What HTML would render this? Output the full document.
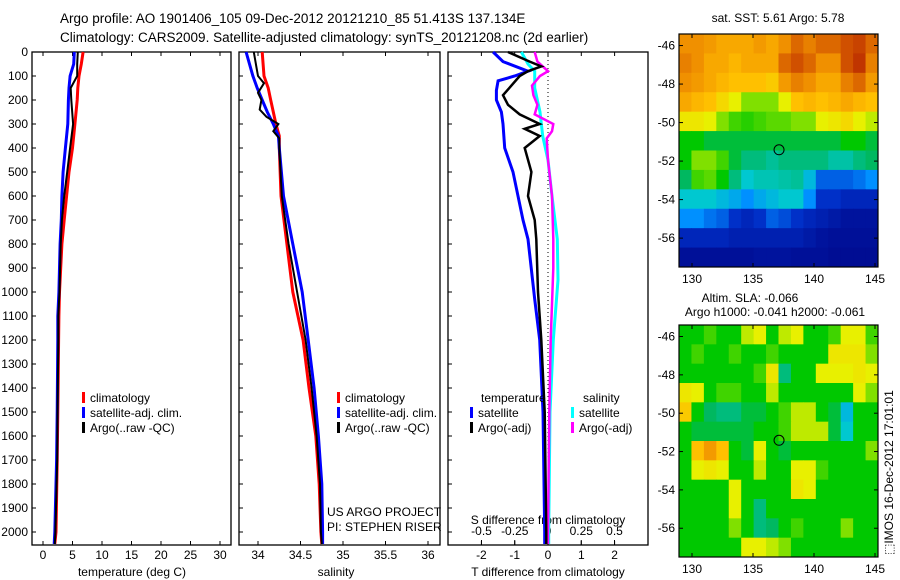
<!DOCTYPE html>
<html><head><meta charset="utf-8"><style>
html,body{margin:0;padding:0;background:#fff;}
svg{display:block;font-family:"Liberation Sans",Arial,sans-serif;}
</style></head><body>
<svg id="fig" width="900" height="580" viewBox="0 0 900 580" xmlns="http://www.w3.org/2000/svg">
<text x="60" y="23" font-size="13.5">Argo profile: AO 1901406_105 09-Dec-2012 20121210_85 51.413S 137.134E</text>
<text x="60" y="42" font-size="13.5">Climatology: CARS2009. Satellite-adjusted climatology: synTS_20121208.nc (2d earlier)</text>
<g id="p1"></g>
<g id="p2"></g>
<g id="p3"></g>
<g id="m1"></g>
<g id="m2"></g>
<text x="778" y="22" font-size="12" text-anchor="middle">sat. SST: 5.61  Argo: 5.78</text>
<text x="750" y="302" font-size="12" text-anchor="middle">Altim. SLA: -0.066</text>
<text x="775" y="316" font-size="12" text-anchor="middle">Argo h1000: -0.041 h2000: -0.061</text>
<text transform="translate(893,555) rotate(-90)" font-size="12">⬚IMOS 16-Dec-2012 17:01:01</text>
</svg>
<script>
// ---- data ----
const depthTicks=[0,100,200,300,400,500,600,700,800,900,1000,1100,1200,1300,1400,1500,1600,1700,1800,1900,2000];
const tTicks=[0,5,10,15,20,25,30];
const sTicks=[34,34.5,35,35.5,36];
const tdTicks=[-2,-1,0,1,2];
const sdTicks=[-0.5,-0.25,0,0.25,0.5];
const sdTickLabels=["-0.5","-0.25","0","0.25","0.5"];
const p1Depth=[0,50,100,150,200,300,400,500,600,700,800,1000,1100,1200,1500,1700,2000,2050];
const tClim=[6.8,6.5,6.1,5.9,5.8,5.4,5.0,4.4,4.0,3.6,3.2,2.8,2.7,2.65,2.5,2.4,2.2,2.0];
const tSat=[5.3,5.2,4.6,4.4,4.3,4.2,3.8,3.4,3.2,3.1,2.9,2.7,2.5,2.5,2.4,2.3,2.0,1.9];
const tArgo=[5.9,5.8,5.8,4.7,4.8,5.1,4.6,4.1,3.6,3.2,3.0,2.8,2.6,2.6,2.45,2.4,2.1,2.0];
const p2Depth=[0,100,150,200,250,300,350,400,600,800,1000,1200,1400,1600,1800,2000,2050];
const sClim=[34.05,34.07,34.12,34.15,34.18,34.21,34.25,34.25,34.27,34.34,34.41,34.53,34.6,34.68,34.72,34.74,34.75];
const sSat=[33.86,33.94,33.99,34.05,34.11,34.18,34.24,34.25,34.3,34.41,34.52,34.59,34.66,34.71,34.75,34.76,34.76];
const sArgoDepth=[0,60,100,130,170,200,240,270,300,330,360,400,600,800,1000,1200,1400,1600,1800,2000,2050];
const sArgo=[33.95,33.98,34.0,34.07,34.0,34.04,34.02,34.1,34.24,34.18,34.25,34.25,34.28,34.36,34.46,34.56,34.63,34.69,34.73,34.74,34.75];
const dTSatDepth=[0,40,80,100,120,160,200,250,300,400,500,600,700,780,1030,1200,1500,2000,2050];
const dTSat=[-1.65,-1.35,-0.6,-1.0,-1.5,-1.55,-1.55,-1.4,-1.35,-1.3,-1.05,-0.9,-0.75,-0.6,-0.4,-0.25,-0.15,-0.1,-0.1];
const dTArgoDepth=[0,40,60,80,100,140,180,220,260,300,320,350,400,500,600,700,780,1000,1200,1500,2000,2050];
const dTArgo=[-1.2,-0.55,-0.2,-0.6,-0.85,-1.1,-1.35,-1.2,-0.85,-0.25,-0.7,-0.25,-0.7,-0.5,-0.6,-0.4,-0.35,-0.3,-0.2,-0.1,-0.05,-0.05];
const dSSatDepth=[0,50,80,150,250,350,450,600,780,950,1200,1500,2000,2050];
const dSSat=[-0.2,-0.15,-0.1,-0.1,-0.06,-0.04,0,0.03,0.07,0.075,0.04,0.015,0.005,0.005];
const dSArgoDepth=[0,40,80,100,140,180,220,260,300,330,360,450,600,780,900,1200,1500,2000,2050];
const dSArgo=[-0.1,-0.08,0,-0.06,-0.12,-0.11,-0.08,-0.1,0.04,0.03,-0.01,0,0.03,0.04,0.04,0.02,0.01,0.0,0.0];
const lonTicks=[130,135,140,145];
const latTicks=[-46,-48,-50,-52,-54,-56];
const sstGrid=[
[0.8,0.8,0.78,0.75,0.75,0.75,0.78,0.75,0.8,0.85,0.82,0.85,0.85,0.88,0.9,0.85],
[0.82,0.8,0.75,0.75,0.72,0.75,0.75,0.75,0.85,0.88,0.85,0.8,0.8,0.88,0.92,0.82],
[0.8,0.78,0.75,0.72,0.7,0.7,0.7,0.68,0.78,0.82,0.8,0.75,0.75,0.82,0.85,0.78],
[0.75,0.72,0.7,0.65,0.6,0.55,0.55,0.55,0.6,0.7,0.72,0.7,0.72,0.75,0.72,0.7],
[0.62,0.62,0.6,0.55,0.5,0.48,0.5,0.52,0.52,0.55,0.55,0.6,0.62,0.65,0.6,0.58],
[0.45,0.45,0.42,0.42,0.42,0.42,0.42,0.42,0.42,0.42,0.42,0.42,0.42,0.45,0.45,0.42],
[0.45,0.55,0.55,0.5,0.42,0.38,0.38,0.36,0.38,0.38,0.38,0.38,0.35,0.35,0.38,0.4],
[0.4,0.5,0.52,0.45,0.38,0.32,0.34,0.34,0.35,0.36,0.3,0.2,0.2,0.2,0.22,0.25],
[0.32,0.32,0.32,0.3,0.28,0.25,0.28,0.3,0.32,0.32,0.25,0.15,0.15,0.12,0.12,0.12],
[0.25,0.25,0.22,0.2,0.15,0.12,0.15,0.2,0.18,0.15,0.12,0.1,0.08,0.06,0.06,0.06],
[0.12,0.12,0.12,0.12,0.1,0.1,0.1,0.1,0.1,0.1,0.08,0.06,0.05,0.05,0.05,0.05],
[0.05,0.05,0.05,0.05,0.05,0.05,0.06,0.06,0.06,0.05,0.05,0.05,0.04,0.04,0.04,0.04]];
const slaGrid=[
[0.45,0.45,0.5,0.45,0.45,0.58,0.6,0.45,0.58,0.6,0.45,0.45,0.5,0.6,0.6,0.5],
[0.45,0.5,0.45,0.45,0.5,0.45,0.45,0.5,0.45,0.45,0.45,0.45,0.62,0.62,0.62,0.55],
[0.45,0.45,0.45,0.45,0.45,0.45,0.5,0.62,0.38,0.45,0.45,0.6,0.6,0.6,0.62,0.6],
[0.62,0.6,0.45,0.5,0.5,0.45,0.45,0.58,0.45,0.45,0.45,0.45,0.45,0.45,0.6,0.55],
[0.68,0.45,0.4,0.38,0.38,0.42,0.42,0.45,0.5,0.58,0.58,0.45,0.42,0.3,0.45,0.45],
[0.45,0.42,0.42,0.42,0.42,0.42,0.45,0.45,0.5,0.58,0.58,0.58,0.42,0.32,0.45,0.45],
[0.45,0.7,0.78,0.7,0.45,0.42,0.6,0.45,0.42,0.45,0.45,0.45,0.45,0.45,0.45,0.55],
[0.45,0.6,0.62,0.6,0.45,0.45,0.58,0.45,0.45,0.6,0.6,0.5,0.45,0.45,0.45,0.45],
[0.45,0.45,0.45,0.45,0.6,0.45,0.45,0.45,0.45,0.62,0.6,0.45,0.45,0.45,0.45,0.45],
[0.45,0.45,0.45,0.45,0.6,0.45,0.38,0.45,0.45,0.45,0.45,0.45,0.45,0.45,0.45,0.45],
[0.45,0.45,0.45,0.45,0.55,0.45,0.38,0.4,0.45,0.5,0.45,0.45,0.45,0.55,0.45,0.45],
[0.45,0.45,0.45,0.45,0.45,0.6,0.6,0.58,0.55,0.45,0.45,0.45,0.45,0.45,0.45,0.45]];
const floatLon=137.134, floatLat=-51.413;

// ---- helpers ----
const NS="http://www.w3.org/2000/svg";
function mk(tag,attrs,parent){const e=document.createElementNS(NS,tag);for(const k in attrs)e.setAttribute(k,attrs[k]);parent.appendChild(e);return e;}
const yTop=52,yBot=545;
const yD=d=>yTop+0.24*d;

function panel(g,x0,x1,name){
  const r=mk('rect',{x:x0,y:yTop,width:x1-x0,height:yBot-yTop,fill:'none',stroke:'#000','stroke-width':1.3},g);
  
  
  depthTicks.forEach(d=>{
    const t=mk('line',{x1:x0,x2:x0+4,y1:yD(d),y2:yD(d),stroke:'#000'},g);
    
    
  });
}
function xTicks(g,vals,fx,name,labels){
  vals.forEach((v,i)=>{
    const x=fx(v);
    const a=mk('line',{x1:x,x2:x,y1:yBot,y2:yBot-4,stroke:'#000'},g);
    
    
    const b=mk('line',{x1:x,x2:x,y1:yTop,y2:yTop+4,stroke:'#000'},g);
    
    
    const t=mk('text',{x:x,y:yBot+14,'font-size':12,'text-anchor':'middle'},g);
    t.textContent=labels?labels[i]:String(v);
    
    
  });
}
function series(g,depths,vals,fx,color,w,name){
  const pts=depths.map((d,i)=>fx(vals[i]).toFixed(1)+','+yD(d).toFixed(1)).join(' ');
  const p=mk('polyline',{points:pts,fill:'none',stroke:color,'stroke-width':w,'stroke-linejoin':'miter'},g);
  
  
}
function legend(g,x,y,color,label,name){
  const l=mk('rect',{x:x,y:y-10,width:3,height:11,fill:color},g);
  
  
  const t=mk('text',{x:x+8,y:y,'font-size':12},g);
  t.textContent=label;
  
  
}
function txt(g,x,y,s,name,anchor){
  const t=mk('text',{x:x,y:y,'font-size':12,'text-anchor':anchor||'start'},g);
  t.textContent=s;
  
  
}

// ---- panel 1 ----
const g1=document.getElementById('p1');
const xT=v=>43+5.9*v;
panel(g1,32,231,'temperature');
depthTicks.forEach(d=>{
  const t=mk('text',{x:28,y:yD(d)+4,'font-size':12,'text-anchor':'end'},g1);
  t.textContent=String(d);
  
  
});
xTicks(g1,tTicks,xT,'temperature');
series(g1,p1Depth,tClim,xT,'#ff0000',3,'temperature-climatology-line');
series(g1,p1Depth,tSat,xT,'#0000ff',3,'temperature-satellite-line');
series(g1,p1Depth,tArgo,xT,'#000000',2,'temperature-argo-line');
legend(g1,82,402,'#ff0000','climatology','legend-climatology');
legend(g1,82,417,'#0000ff','satellite-adj. clim.','legend-satellite');
legend(g1,82,432,'#000000','Argo(..raw -QC)','legend-argo');
txt(g1,132,576,'temperature (deg C)','temperature-axis-title','middle');

// ---- panel 2 ----
const g2=document.getElementById('p2');
const xS=v=>258+85*(v-34);
panel(g2,239,440,'salinity');
xTicks(g2,sTicks,xS,'salinity');
series(g2,p2Depth,sClim,xS,'#ff0000',3,'salinity-climatology-line');
series(g2,p2Depth,sSat,xS,'#0000ff',3,'salinity-satellite-line');
series(g2,sArgoDepth,sArgo,xS,'#000000',2,'salinity-argo-line');
legend(g2,337,402,'#ff0000','climatology','legend-climatology-2');
legend(g2,337,417,'#0000ff','satellite-adj. clim.','legend-satellite-2');
legend(g2,337,432,'#000000','Argo(..raw -QC)','legend-argo-2');
txt(g2,327,516,'US ARGO PROJECT','credit-project');
txt(g2,327,531,'PI: STEPHEN RISER','credit-pi');
txt(g2,336,576,'salinity','salinity-axis-title','middle');

// ---- panel 3 ----
const g3=document.getElementById('p3');
const xTD=v=>548+33.3*v;
const xSD=v=>548+133*v;
panel(g3,448,648,'difference');
xTicks(g3,tdTicks,xTD,'t-difference');
sdTicks.forEach((v,i)=>{
  const x=xSD(v);
  const a=mk('line',{x1:x,x2:x,y1:yBot,y2:yBot-5,stroke:'#000'},g3);
  
  
  txt(g3,x,535,sdTickLabels[i],'s-difference-tick-label','middle');
});
txt(g3,548,524,'S difference from climatology','s-difference-axis-title','middle');
txt(g3,548,576,'T difference from climatology','t-difference-axis-title','middle');
const zl=mk('line',{x1:xTD(0),x2:xTD(0),y1:yTop,y2:yBot,stroke:'#000','stroke-dasharray':'1,3'},g3);


series(g3,dTSatDepth,dTSat,xTD,'#0000ff',3,'t-diff-satellite-line');
series(g3,dSSatDepth,dSSat,xSD,'#00ffff',3,'s-diff-satellite-line');
series(g3,dSArgoDepth,dSArgo,xSD,'#ff00ff',2.5,'s-diff-argo-line');
series(g3,dTArgoDepth,dTArgo,xTD,'#000000',2.5,'t-diff-argo-line');
txt(g3,481,402,'temperature','legend-temperature-heading');
txt(g3,583,402,'salinity','legend-salinity-heading');
legend(g3,470,417,'#0000ff','satellite','legend-t-satellite');
legend(g3,470,432,'#000000','Argo(-adj)','legend-t-argo');
legend(g3,571,417,'#00ffff','satellite','legend-s-satellite');
legend(g3,571,432,'#ff00ff','Argo(-adj)','legend-s-argo');

// ---- maps ----
const stops=[[0,[0,0,128]],[0.15,[0,48,200]],[0.25,[0,144,255]],[0.32,[0,200,208]],[0.4,[0,184,96]],[0.45,[0,200,0]],[0.55,[128,224,0]],[0.6,[232,240,0]],[0.7,[255,192,0]],[0.8,[240,144,0]],[0.88,[208,80,0]],[1,[160,0,0]]];
function cmap(v){
  for(let i=1;i<stops.length;i++){if(v<=stops[i][0]){const a=stops[i-1],b=stops[i];const f=(v-a[0])/(b[0]-a[0]);return 'rgb('+a[1].map((c,k)=>Math.round(c+f*(b[1][k]-c))).join(',')+')';}}
  return 'rgb(160,0,0)';
}
function drawMap(g,y0,y1,grid,name){
  const x0=679,x1=878;
  const fx=l=>692+(l-130)*12.2;
  const fy=la=>y0+(-45.4-la)*((y1-y0)/12.1);
  const rows=grid.length,cols=grid[0].length;
  const cw=(x1-x0)/cols,ch=(y1-y0)/rows;
  grid.forEach((row,r)=>row.forEach((v,c)=>{
    const e=mk('rect',{x:(x0+c*cw).toFixed(2),y:(y0+r*ch).toFixed(2),width:(cw+0.5).toFixed(2),height:(ch+0.5).toFixed(2),fill:cmap(v)},g);
    
    
  }));
  const fr=mk('rect',{x:x0,y:y0,width:x1-x0,height:y1-y0,fill:'none',stroke:'#000','stroke-width':1.2},g);
  
  
  lonTicks.forEach(l=>{
    const x=fx(l);
    const a=mk('line',{x1:x,x2:x,y1:y1,y2:y1-4,stroke:'#000'},g);
    
    
    const b=mk('line',{x1:x,x2:x,y1:y0,y2:y0+4,stroke:'#000'},g);
    
    
    txt(g,x,y1+16,String(l),name+'-lon-label','middle');
  });
  latTicks.forEach(la=>{
    const y=fy(la);
    const a=mk('line',{x1:x0,x2:x0+4,y1:y,y2:y,stroke:'#000'},g);
    
    
    const b=mk('line',{x1:x1,x2:x1-4,y1:y,y2:y,stroke:'#000'},g);
    
    
    txt(g,675,y+4,String(la),name+'-lat-label','end');
  });
  const c=mk('circle',{cx:fx(floatLon),cy:fy(floatLat),r:5,fill:'none',stroke:'#000','stroke-width':1},g);
  
  
}
drawMap(document.getElementById('m1'),34,267,sstGrid,'sst-map');
drawMap(document.getElementById('m2'),325,557,slaGrid,'sla-map');
</script>
</body></html>
